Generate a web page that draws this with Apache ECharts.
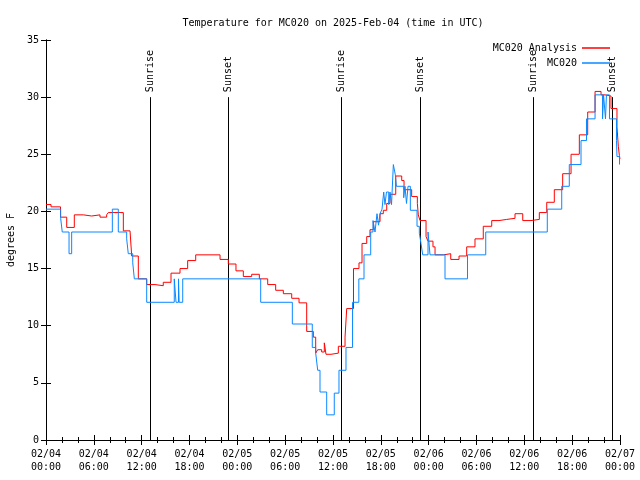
<!DOCTYPE html>
<html>
<head>
<meta charset="utf-8">
<script src="https://cdn.jsdelivr.net/npm/echarts@6/dist/echarts.min.js"></script>
<style>html,body{margin:0;padding:0;background:#fff}#c{width:640px;height:480px}</style>
</head>
<body>
<div id="c"></div>
<script>
// Hours since 2025-02-04 00:00 UTC, temperature in degrees F
const analysisTimes = [0.00,0.63,1.82,2.60,3.55,4.68,5.73,6.77,7.61,7.81,9.70,10.54,10.75,11.58,12.63,13.67,14.71,15.68,16.81,17.77,18.78,21.83,22.87,23.83,24.75,25.80,26.76,27.81,28.81,29.77,30.82,31.74,32.70,33.53,33.83,34.08,34.58,34.91,35.12,35.75,36.67,37.51,37.72,38.57,39.26,39.64,40.23,40.64,41.06,41.90,42.31,42.74,43.15,43.87,44.62,44.91,45.87,46.58,46.70,46.91,47.67,47.92,48.54,48.80,49.84,50.77,51.81,52.77,53.81,54.85,55.91,56.82,57.79,58.83,59.80,60.84,61.88,62.81,63.76,64.81,65.86,66.90,67.95,68.87,69.62,70.12,70.87,71.62,71.79,71.92,72.00];
const analysisTemps = [20.6,20.4,19.5,18.6,19.7,19.6,19.7,19.5,19.7,19.9,18.3,18.2,16.1,14.1,13.6,13.5,13.8,14.6,15.0,15.7,16.2,15.8,15.4,14.8,14.3,14.5,14.1,13.6,13.1,12.8,12.4,12.0,9.5,9.0,7.6,7.9,7.7,8.5,7.5,7.6,8.2,9.0,11.5,15.0,15.5,17.2,17.8,18.4,19.1,19.8,20.1,20.7,21.5,23.1,22.7,21.9,21.3,20.7,19.7,19.2,17.8,17.4,16.9,16.2,16.3,15.8,16.1,16.9,17.6,18.7,19.2,19.3,19.4,19.8,19.2,19.3,19.9,20.8,21.9,23.3,25.0,26.7,28.7,30.5,30.2,30.1,29.0,27.4,25.7,24.9,24.6];

const stationTimes = [0.00,1.84,2.04,2.89,3.22,8.32,9.07,10.12,10.32,10.88,11.08,12.63,16.09,16.31,16.62,16.70,17.15,26.93,30.90,33.40,33.83,34.08,34.37,35.21,36.16,36.75,37.63,38.45,39.24,39.89,40.73,41.02,41.27,41.52,41.71,41.90,42.15,42.36,42.52,42.71,42.99,43.15,43.34,43.57,43.82,43.95,44.87,45.03,45.22,45.41,45.70,46.54,46.83,47.04,47.25,47.92,48.17,50.05,52.87,55.16,62.88,64.69,65.64,67.11,67.80,68.87,69.81,69.94,70.18,70.30,70.68,71.56,71.62,71.94,72.00];
const stationTemps = [20.2,19.4,18.2,16.3,18.2,20.2,18.2,17.6,16.3,15.5,14.1,12.05,14.1,12.05,14.1,12.05,14.1,12.05,10.15,8.1,7.6,6.1,4.2,2.2,4.1,6.1,8.1,12.05,14.1,16.2,18.2,19.2,18.2,19.8,18.8,19.8,20.2,21.7,20.6,21.7,20.6,21.7,20.6,24.1,23.2,22.2,21.2,22.2,20.7,22.2,20.1,18.7,18.1,17.2,16.2,18.2,16.2,14.1,16.2,18.2,20.2,22.2,24.1,26.2,28.1,30.2,28.1,30.2,28.1,30.2,28.1,26.2,24.8,24.1,24.1];

const sunTimes = [13.05,22.83,37.0,46.91,61.09,71.0];
const sunLabels = ['Sunrise','Sunset','Sunrise','Sunset','Sunrise','Sunset'];
const sunLineTop = 30;

const yTicks = [0,5,10,15,20,25,30,35];
const xTickDates = ['02/04','02/04','02/04','02/04','02/05','02/05','02/05','02/05','02/06','02/06','02/06','02/06','02/07'];
const xTickTimes = ['00:00','06:00','12:00','18:00','00:00','06:00','12:00','18:00','00:00','06:00','12:00','18:00','00:00'];

const FONT = 'DejaVu Sans Mono';
const pair = (ts, vs) => ts.map((t, i) => [t, vs[i]]);
const LEGEND_ICON = 'path://M0,0L56,0L56,3L0,3Z';

const chart = echarts.init(document.getElementById('c'), null, {renderer: 'canvas'});

const axisCommon = {
  axisLine: {show: true, lineStyle: {color: '#000', width: 1}},
  splitLine: {show: false},
};

chart.setOption({
  animation: false,
  backgroundColor: '#fff',
  title: {
    text: 'Temperature for MC020 on 2025-Feb-04 (time in UTC)',
    left: 328, top: 13, textAlign: 'center',
    textStyle: {fontFamily: FONT, fontSize: 10, fontWeight: 'normal', color: '#000'}
  },
  legend: [
    {data: [{name: 'MC020 Analysis', icon: LEGEND_ICON}], right: 30, top: 43, align: 'right', orient: 'vertical', padding: 0,
     itemWidth: 28, itemHeight: 10, textStyle: {fontFamily: FONT, fontSize: 10, color: '#000'}},
    {data: [{name: 'MC020', icon: LEGEND_ICON}], right: 30, top: 58, align: 'right', orient: 'vertical', padding: 0,
     itemWidth: 28, itemHeight: 10, textStyle: {fontFamily: FONT, fontSize: 10, color: '#000'}}
  ],
  grid: {left: 46, right: 20, top: 40, bottom: 40, containLabel: false, outerBoundsMode: 'none'},
  xAxis: [
    Object.assign({}, axisCommon, {
      type: 'value', min: 0, max: 72, interval: 6, position: 'bottom',
      axisTick: {show: true, inside: true, length: 5, lineStyle: {color: '#000'}},
      minorTick: {show: true, splitNumber: 3, length: 3, lineStyle: {color: '#000'}},
      axisLabel: {
        fontFamily: FONT, fontSize: 10, color: '#000', margin: 8, lineHeight: 13,
        formatter: v => { const i = Math.round(v / 6); return xTickDates[i] + '\n' + xTickTimes[i]; }
      }
    }),
    Object.assign({}, axisCommon, {
      type: 'value', min: 0, max: 72, interval: 6, position: 'top',
      axisTick: {show: true, inside: true, length: 5, lineStyle: {color: '#000'}},
      minorTick: {show: true, splitNumber: 3, length: 3, lineStyle: {color: '#000'}},
      axisLabel: {show: false}
    })
  ],
  yAxis: [
    Object.assign({}, axisCommon, {
      type: 'value', min: 0, max: 35, interval: 5, position: 'left',
      name: 'degrees F', nameLocation: 'middle', nameGap: 30, nameRotate: 90,
      nameTextStyle: {fontFamily: FONT, fontSize: 10, color: '#000'},
      axisTick: {show: true, inside: true, length: 5, lineStyle: {color: '#000'}},
      axisLabel: {fontFamily: FONT, fontSize: 10, color: '#000', margin: 7,
        formatter: v => yTicks.includes(v) ? String(v) : ''}
    }),
    Object.assign({}, axisCommon, {
      type: 'value', min: 0, max: 35, interval: 5, position: 'right',
      axisTick: {show: true, inside: true, length: 5, lineStyle: {color: '#000'}},
      axisLabel: {show: false}
    })
  ],
  series: [
    {
      name: 'MC020 Analysis', type: 'line', step: 'end', symbol: 'none', showSymbol: false,
      data: pair(analysisTimes, analysisTemps),
      lineStyle: {color: '#ff0000', width: 1}, itemStyle: {color: '#ff0000'}, z: 3
    },
    {
      name: 'MC020', type: 'line', step: 'end', symbol: 'none', showSymbol: false,
      data: pair(stationTimes, stationTemps),
      lineStyle: {color: '#0a88ff', width: 1}, itemStyle: {color: '#0a88ff'}, z: 4
    },
    {
      type: 'custom', name: 'sun', silent: true, z: 2,
      data: sunTimes.map(t => [t, 0]),
      renderItem: (params, api) => {
        const t = api.value(0);
        const top = api.coord([t, sunLineTop]);
        const bot = api.coord([t, 0]);
        const x = Math.round(top[0]) + 0.5;
        return {
          type: 'group',
          children: [
            {type: 'line', shape: {x1: x, y1: top[1], x2: x, y2: bot[1]},
             style: {stroke: '#000', lineWidth: 1}},
            {type: 'text', x: x, y: top[1] - 5, rotation: Math.PI / 2,
             style: {text: sunLabels[params.dataIndex], font: '10px ' + FONT, fill: '#000',
                     align: 'left', verticalAlign: 'middle'}}
          ]
        };
      }
    }
  ]
});
</script>
</body>
</html>
